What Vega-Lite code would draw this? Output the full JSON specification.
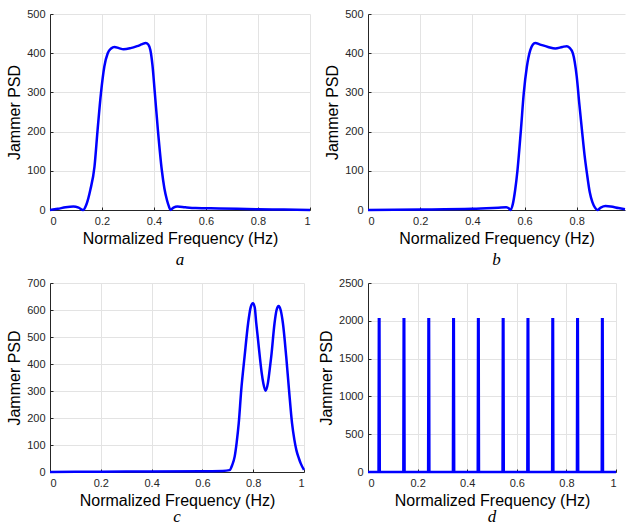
{
  "$schema": "https://vega.github.io/schema/vega-lite/v6.json",
  "padding": {"left": 6, "top": 8, "right": 0, "bottom": 0},
  "bounds": "flush",
  "columns": 2,
  "spacing": {"row": 73, "column": 58},
  "config": {
    "view": {"stroke": null},
    "axis": {
      "grid": true, "gridColor": "#e3e3e3", "gridWidth": 1,
      "domainColor": "#262626", "domainWidth": 1,
      "tickColor": "#262626", "tickSize": -3, "labelPadding": 8,
      "labelColor": "#262626", "labelFont": "Liberation Sans", "labelFontSize": 11,
      "titleFont": "Liberation Sans", "titleFontSize": 16, "titleFontWeight": "normal", "titleColor": "#000000",
      "titlePadding": 4
    },
    "axisX": {"format": "~g"},
    "title": {"font": "Liberation Serif", "fontStyle": "italic", "fontSize": 17, "fontWeight": "normal", "orient": "bottom", "offset": 6, "color": "#000000"},
    "line": {"color": "#0000ff", "strokeWidth": 2.5, "clip": true}
  },
  "datasets": {
    "a": [
      {"f":0,"psd":0},{"f":0.03,"psd":3},{"f":0.06,"psd":7},{"f":0.09,"psd":9},{"f":0.11,"psd":6},{"f":0.127,"psd":0},{"f":0.14,"psd":14},{"f":0.155,"psd":51},{"f":0.171,"psd":110},{"f":0.183,"psd":204},{"f":0.196,"psd":298},{"f":0.209,"psd":366},{"f":0.222,"psd":400},{"f":0.235,"psd":412},{"f":0.248,"psd":416},{"f":0.265,"psd":413},{"f":0.283,"psd":410},{"f":0.31,"psd":413},{"f":0.335,"psd":418},{"f":0.355,"psd":423},{"f":0.368,"psd":426},{"f":0.378,"psd":422},{"f":0.386,"psd":408},{"f":0.394,"psd":370},{"f":0.403,"psd":300},{"f":0.415,"psd":204},{"f":0.43,"psd":102},{"f":0.44,"psd":55},{"f":0.45,"psd":25},{"f":0.458,"psd":8},{"f":0.463,"psd":0},{"f":0.475,"psd":6},{"f":0.49,"psd":9},{"f":0.52,"psd":7},{"f":0.56,"psd":5},{"f":0.65,"psd":4},{"f":0.8,"psd":2},{"f":0.9,"psd":1},{"f":1,"psd":0}
    ],
    "b": [
      {"f":0,"psd":0},{"f":0.2,"psd":1},{"f":0.4,"psd":3},{"f":0.5,"psd":6},{"f":0.53,"psd":7},{"f":0.54,"psd":4},{"f":0.545,"psd":0},{"f":0.555,"psd":15},{"f":0.564,"psd":51},{"f":0.573,"psd":102},{"f":0.586,"psd":204},{"f":0.597,"psd":298},{"f":0.609,"psd":366},{"f":0.622,"psd":408},{"f":0.632,"psd":422},{"f":0.641,"psd":426},{"f":0.66,"psd":422},{"f":0.69,"psd":416},{"f":0.718,"psd":412},{"f":0.745,"psd":416},{"f":0.762,"psd":418},{"f":0.772,"psd":414},{"f":0.785,"psd":400},{"f":0.8,"psd":340},{"f":0.81,"psd":270},{"f":0.82,"psd":204},{"f":0.83,"psd":140},{"f":0.839,"psd":94},{"f":0.85,"psd":45},{"f":0.86,"psd":20},{"f":0.87,"psd":6},{"f":0.879,"psd":0},{"f":0.892,"psd":6},{"f":0.91,"psd":10},{"f":0.93,"psd":9},{"f":0.96,"psd":5},{"f":0.985,"psd":2}
    ],
    "c": [
      {"f":0,"psd":0},{"f":0.2,"psd":1},{"f":0.4,"psd":2},{"f":0.6,"psd":3},{"f":0.68,"psd":4},{"f":0.707,"psd":7},{"f":0.717,"psd":25},{"f":0.727,"psd":57},{"f":0.735,"psd":110},{"f":0.743,"psd":180},{"f":0.753,"psd":304},{"f":0.766,"psd":427},{"f":0.78,"psd":551},{"f":0.79,"psd":610},{"f":0.799,"psd":625},{"f":0.806,"psd":610},{"f":0.812,"psd":551},{"f":0.819,"psd":490},{"f":0.826,"psd":427},{"f":0.833,"psd":370},{"f":0.84,"psd":328},{"f":0.849,"psd":301},{"f":0.858,"psd":330},{"f":0.865,"psd":380},{"f":0.871,"psd":427},{"f":0.884,"psd":551},{"f":0.892,"psd":600},{"f":0.9,"psd":615},{"f":0.908,"psd":600},{"f":0.917,"psd":551},{"f":0.93,"psd":427},{"f":0.941,"psd":304},{"f":0.953,"psd":180},{"f":0.962,"psd":120},{"f":0.97,"psd":81},{"f":0.98,"psd":50},{"f":0.987,"psd":32},{"f":1,"psd":8}
    ],
    "d": [
      {"f":0,"psd":0},
      {"f":0.0425,"psd":0},{"f":0.0438,"psd":2020},{"f":0.0462,"psd":2020},{"f":0.0475,"psd":0},
      {"f":0.1425,"psd":0},{"f":0.1438,"psd":2020},{"f":0.1462,"psd":2020},{"f":0.1475,"psd":0},
      {"f":0.2425,"psd":0},{"f":0.2438,"psd":2020},{"f":0.2462,"psd":2020},{"f":0.2475,"psd":0},
      {"f":0.3425,"psd":0},{"f":0.3438,"psd":2020},{"f":0.3462,"psd":2020},{"f":0.3475,"psd":0},
      {"f":0.4425,"psd":0},{"f":0.4438,"psd":2020},{"f":0.4462,"psd":2020},{"f":0.4475,"psd":0},
      {"f":0.5425,"psd":0},{"f":0.5438,"psd":2020},{"f":0.5462,"psd":2020},{"f":0.5475,"psd":0},
      {"f":0.6425,"psd":0},{"f":0.6438,"psd":2020},{"f":0.6462,"psd":2020},{"f":0.6475,"psd":0},
      {"f":0.7425,"psd":0},{"f":0.7438,"psd":2020},{"f":0.7462,"psd":2020},{"f":0.7475,"psd":0},
      {"f":0.8425,"psd":0},{"f":0.8438,"psd":2020},{"f":0.8462,"psd":2020},{"f":0.8475,"psd":0},
      {"f":0.9425,"psd":0},{"f":0.9438,"psd":2020},{"f":0.9462,"psd":2020},{"f":0.9475,"psd":0},
      {"f":1,"psd":0}
    ]
  },
  "concat": [
    {
      "title": "a",
      "width": 260, "height": 196,
      "data": {"name": "a"},
      "mark": {"type": "line", "interpolate": "monotone"},
      "encoding": {
        "x": {"field": "f", "type": "quantitative", "scale": {"domain": [0, 1], "nice": false}, "axis": {"title": "Normalized Frequency (Hz)", "values": [0, 0.2, 0.4, 0.6, 0.8, 1]}},
        "y": {"field": "psd", "type": "quantitative", "scale": {"domain": [0, 500], "nice": false}, "axis": {"title": "Jammer PSD", "values": [0, 100, 200, 300, 400, 500]}}
      }
    },
    {
      "title": "b",
      "width": 257, "height": 196,
      "data": {"name": "b"},
      "mark": {"type": "line", "interpolate": "monotone"},
      "encoding": {
        "x": {"field": "f", "type": "quantitative", "scale": {"domain": [0, 0.985], "nice": false}, "axis": {"title": "Normalized Frequency (Hz)", "values": [0, 0.2, 0.4, 0.6, 0.8]}},
        "y": {"field": "psd", "type": "quantitative", "scale": {"domain": [0, 500], "nice": false}, "axis": {"title": "Jammer PSD", "values": [0, 100, 200, 300, 400, 500]}}
      }
    },
    {
      "title": {"text": "c", "offset": 1},
      "width": 254, "height": 189,
      "data": {"name": "c"},
      "mark": {"type": "line", "interpolate": "monotone"},
      "encoding": {
        "x": {"field": "f", "type": "quantitative", "scale": {"domain": [0, 1], "nice": false}, "axis": {"title": "Normalized Frequency (Hz)", "values": [0, 0.2, 0.4, 0.6, 0.8, 1]}},
        "y": {"field": "psd", "type": "quantitative", "scale": {"domain": [0, 700], "nice": false}, "axis": {"title": "Jammer PSD", "values": [0, 100, 200, 300, 400, 500, 600, 700]}}
      }
    },
    {
      "title": {"text": "d", "offset": 1},
      "width": 248, "height": 189,
      "data": {"name": "d"},
      "mark": {"type": "line", "interpolate": "linear"},
      "encoding": {
        "x": {"field": "f", "type": "quantitative", "scale": {"domain": [0, 1], "nice": false}, "axis": {"title": "Normalized Frequency (Hz)", "values": [0, 0.2, 0.4, 0.6, 0.8, 1]}},
        "y": {"field": "psd", "type": "quantitative", "scale": {"domain": [0, 2500], "nice": false}, "axis": {"title": "Jammer PSD", "format": "d", "values": [0, 500, 1000, 1500, 2000, 2500]}}
      }
    }
  ]
}
